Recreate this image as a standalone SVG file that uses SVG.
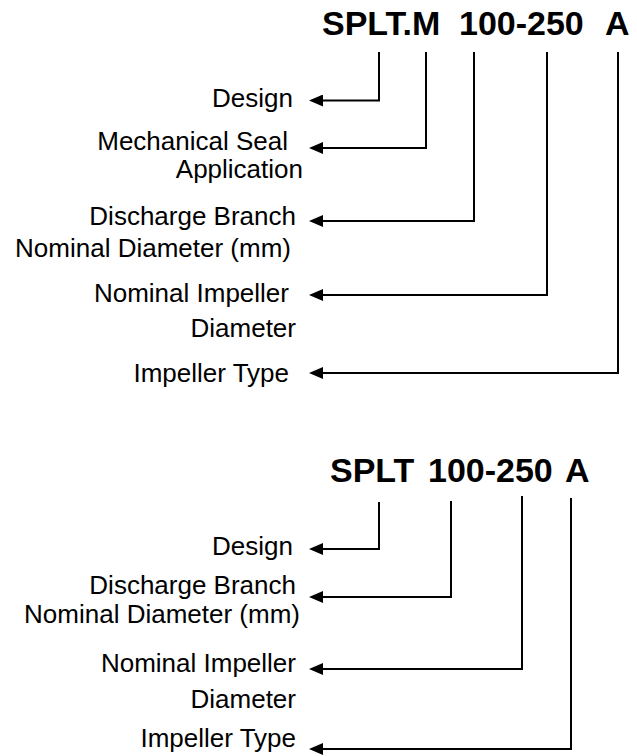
<svg xmlns="http://www.w3.org/2000/svg" width="637" height="756" viewBox="0 0 637 756">
<style>
.title{font-family:"Liberation Sans",Arial,sans-serif;font-weight:bold;font-size:34px;fill:#000}
.lbl{font-family:"Liberation Sans",Arial,sans-serif;font-size:26px;fill:#000;text-anchor:end}
.conn path{fill:none;stroke:#000;stroke-width:2;marker-end:url(#ah)}
</style>
<defs>
<marker id="ah" markerUnits="userSpaceOnUse" markerWidth="14" markerHeight="12" viewBox="0 0 14 12" refX="1" refY="6" orient="auto">
<polygon points="0,0 14,6 0,12" fill="#000"/>
</marker>
</defs>
<rect width="637" height="756" fill="#fff"/>
<g id="title1"><text class="title" y="35"><tspan x="322">SPLT.M </tspan><tspan x="459">100-250  </tspan><tspan x="605">A</tspan></text></g>
<g id="t1-design"><text class="lbl" x="293" y="107">Design</text></g>
<g id="t1-seal"><text class="lbl"><tspan x="288" y="150">Mechanical Seal</tspan><tspan x="303" y="178">Application</tspan></text></g>
<g id="t1-discharge"><text class="lbl"><tspan x="296" y="225">Discharge Branch</tspan><tspan x="291" y="257">Nominal Diameter (mm)</tspan></text></g>
<g id="t1-impdia"><text class="lbl"><tspan x="289" y="302">Nominal Impeller</tspan><tspan x="296" y="337">Diameter</tspan></text></g>
<g id="t1-imptype"><text class="lbl" x="289" y="382">Impeller Type</text></g>
<g id="title2"><text class="title" y="482"><tspan x="330">SPLT </tspan><tspan x="428">100-250 </tspan><tspan x="565">A</tspan></text></g>
<g id="t2-design"><text class="lbl" x="293" y="555">Design</text></g>
<g id="t2-discharge"><text class="lbl"><tspan x="296" y="594">Discharge Branch</tspan><tspan x="300" y="623">Nominal Diameter (mm)</tspan></text></g>
<g id="t2-impdia"><text class="lbl"><tspan x="296" y="672">Nominal Impeller</tspan><tspan x="296" y="708">Diameter</tspan></text></g>
<g id="t2-imptype"><text class="lbl" x="296" y="747">Impeller Type</text></g>
<g id="connectors" class="conn">
<path d="M379,52 V100.5 H322"/>
<path d="M426,52 V148 H322"/>
<path d="M474,52 V221 H322"/>
<path d="M547,52 V295 H322"/>
<path d="M618,52 V373 H322"/>
<path d="M379,502 V549 H322"/>
<path d="M451,501 V597 H322"/>
<path d="M522,496 V669 H322"/>
<path d="M571,498 V749 H322"/>
</g>
</svg>
